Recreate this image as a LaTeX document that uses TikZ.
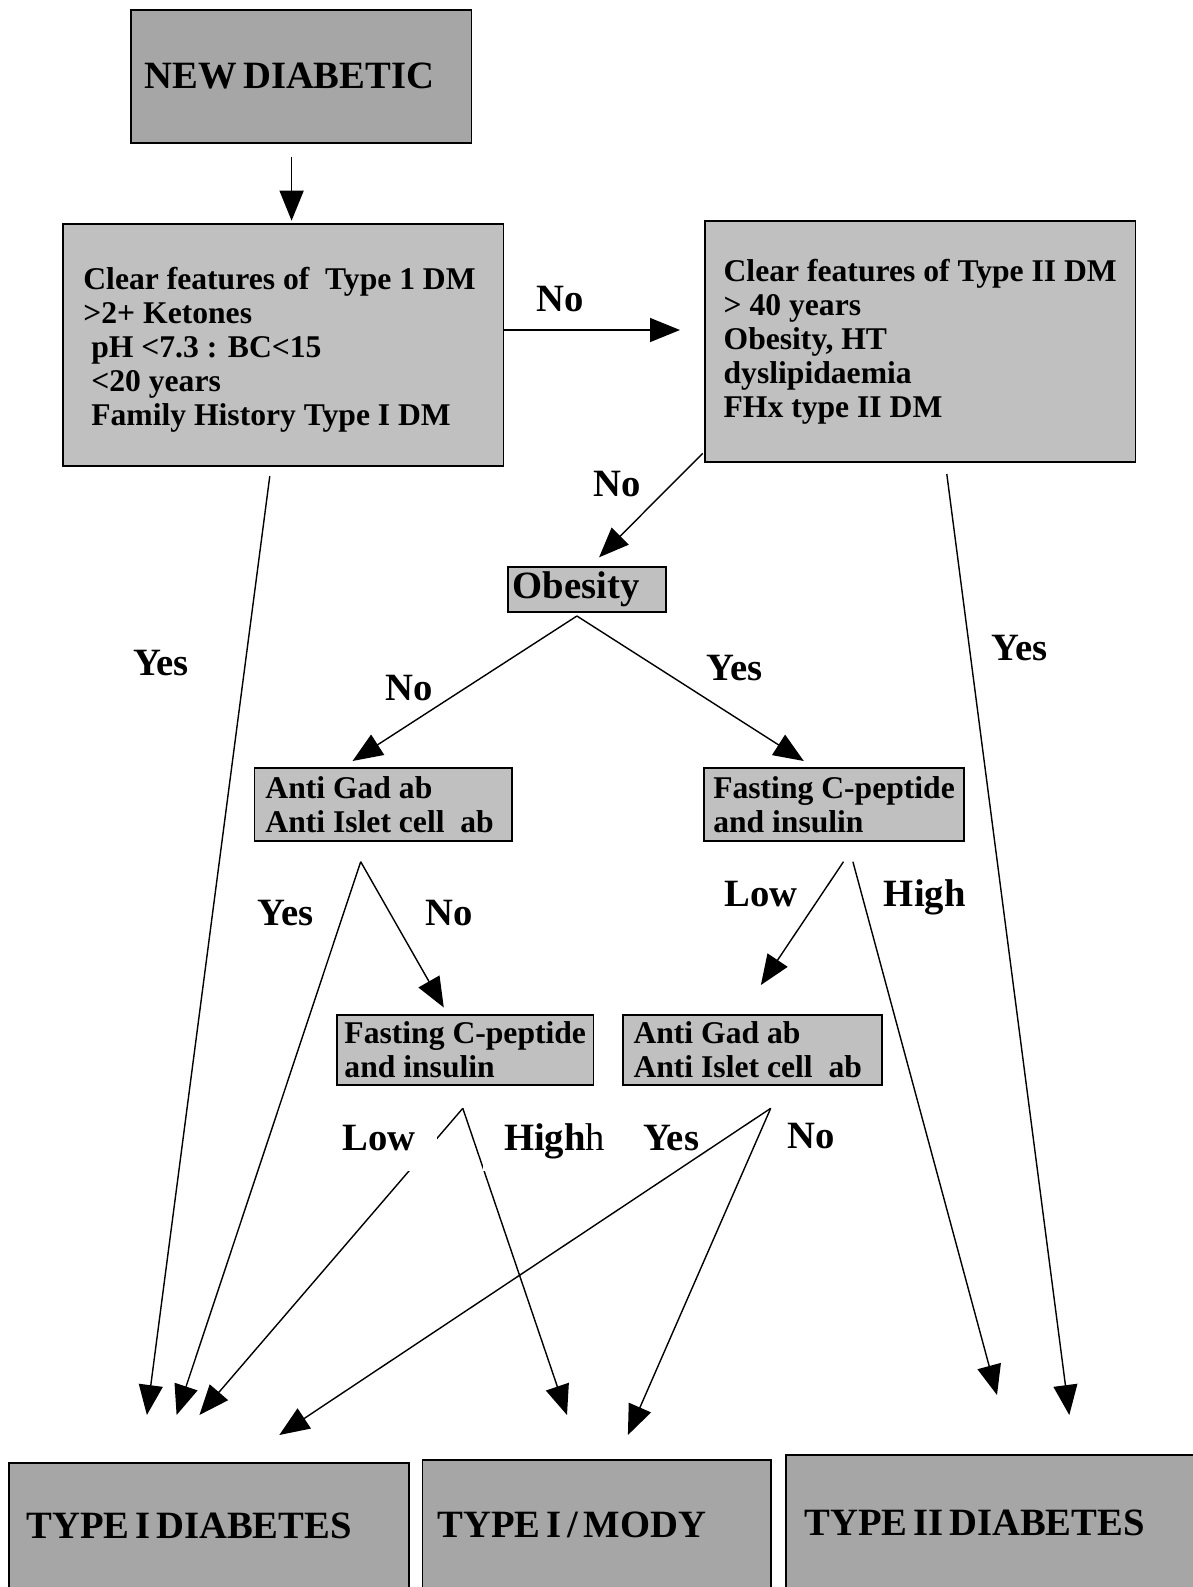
\documentclass[tikz,border=0pt]{standalone}
\usepackage{fontspec}
\setmainfont{Liberation Serif}
\newfontfamily\headfont{Liberation Serif}[WordSpace=0.6]
\usetikzlibrary{arrows.meta}
\definecolor{boxdark}{RGB}{166, 166, 166}
\definecolor{boxlight}{RGB}{192, 192, 192}
\tikzset{
  headbox/.style={draw, line width=1pt, fill=boxdark, align=flush left, inner ysep=0pt,
    font=\headfont\fontsize{22}{26}\selectfont\bfseries},
  infobox/.style={draw, line width=1pt, fill=boxlight, align=flush left, inner sep=0pt,
    font=\fontsize{18}{19.4}\selectfont\bfseries},
  answer/.style={anchor=base, inner sep=0pt, font=\headfont\fontsize{22}{26}\selectfont\bfseries},
  gapanswer/.style={answer, fill=white, inner sep=0.42cm, text depth=0pt},
  arr/.style={line width=0.8pt, -{Triangle[length=0.6cm, width=0.48cm]}}
}

\begin{document}
\begin{tikzpicture}[x=0.02cm, y=-0.02cm]
  \useasboundingbox[fill=white] (0, 0) rectangle (1193, 1587);
  \clip (0, 0) rectangle (1193, 1587);

  \node[headbox, text width=6.25cm, inner xsep=0.28cm, minimum width=6.812cm, minimum height=2.654cm]
    (new) at (301.2, 76.35) { NEW DIABETIC };
  \node[infobox, text width=8.0cm, inner xsep=0.4cm, minimum width=8.81cm, minimum height=4.834cm] (t1) at (283.35, 345.15)
    { \rule{0pt}{0.64cm}Clear features of\ \ Type 1 DM\\>2+ Ketones\\\hspace*{.25em}pH <7.3 : BC<15\\\hspace*{.25em}<20 years\\\hspace*{.25em}Family History Type I DM };
  \node[infobox, minimum width=8.61cm, minimum height=4.832cm] (t2) at (920.25, 341.5)
    { Clear features of Type II DM\\> 40 years\\Obesity, HT\\dyslipidaemia\\FHx type II DM };
  \node[headbox, fill=boxlight, text width=2.97cm, inner xsep=0.088cm, minimum width=3.148cm, minimum height=0.912cm]
    (obese) at (587, 589.5) { Obesity };

  \node[infobox, text width=4.708cm, inner xsep=0.218cm, minimum width=5.144cm, minimum height=1.448cm] (gadA) at (383.1, 804.5)
    { Anti Gad ab\\Anti Islet cell\ \ ab };
  \node[infobox, minimum width=5.19cm, minimum height=1.448cm] (fastA) at (834.05, 804.5)
    { Fasting C-peptide\\and insulin };
  \node[infobox, minimum width=5.126cm, minimum height=1.4cm] (fastB) at (465.25, 1050)
    { Fasting C-peptide\\and insulin };
  \node[infobox, text width=4.766cm, inner xsep=0.208cm, minimum width=5.182cm, minimum height=1.4cm] (gadB) at (752.65, 1050)
    { Anti Gad ab\\Anti Islet cell\ \ ab };

  \node[headbox, text width=7.306cm, inner xsep=0.35cm, minimum width=8.006cm, minimum height=2.546cm]
    (typeI) at (209.25, 1526.35) { TYPE I DIABETES };
  \node[headbox, text width=6.364cm, inner xsep=0.304cm, minimum width=6.972cm, minimum height=2.6cm]
    (mody) at (596.7, 1525) { TYPE I / MODY };
  \node[headbox, text width=7.646cm, inner xsep=0.366cm, minimum width=8.378cm, minimum height=2.7cm]
    (typeII) at (995.55, 1522.5) { TYPE II DIABETES };

  \coordinate (newOut) at (291.6, 157.3);
  \coordinate (t1In) at (291.6, 220.7);
  \coordinate (t2In) at (680, 330);
  \coordinate (t2Out) at (702.7, 453.3);
  \coordinate (obIn) at (599.1, 557.3);
  \coordinate (obFork) at (576.9, 616);
  \coordinate (gadAIn) at (352.5, 761);
  \coordinate (fastAIn) at (803.8, 761);
  \coordinate (gadAFork) at (360.7, 861.7);
  \coordinate (fastBIn) at (443.8, 1007.5);
  \coordinate (t1Out) at (269.8, 476);
  \coordinate (fastALow) at (843.5, 861.7);
  \coordinate (fastAHigh) at (852.9, 861.7);
  \coordinate (gadBIn) at (760.9, 985);
  \coordinate (t2Yes) at (946.8, 474);
  \coordinate (fastBFork) at (462.8, 1108.3);
  \coordinate (gadBFork) at (770.7, 1108.3);
  \coordinate (typeIa) at (146.9, 1415);
  \coordinate (typeIb) at (176.6, 1415);
  \coordinate (typeIc) at (199.4, 1415);
  \coordinate (typeId) at (279.3, 1435);
  \coordinate (modyA) at (567, 1415);
  \coordinate (modyB) at (627.9, 1435);
  \coordinate (typeIIa) at (997, 1395);
  \coordinate (typeIIb) at (1069.3, 1415);

  \draw[arr] (newOut) -- (t1In);
  \draw[arr] (t1.east |- t2In) -- (t2In);
  \draw[arr] (t2Out) -- (obIn);
  \draw[arr] (obFork) -- (gadAIn);
  \draw[arr] (obFork) -- (fastAIn);
  \draw[arr] (gadAFork) -- (fastBIn);
  \draw[arr] (gadAFork) -- (typeIb);
  \draw[arr] (t1Out) -- (typeIa);
  \draw[arr] (fastALow) -- (gadBIn);
  \draw[arr] (fastAHigh) -- (typeIIa);
  \draw[arr] (t2Yes) -- (typeIIb);
  \draw[arr] (fastBFork) -- (typeIc);
  \draw[arr] (fastBFork) -- (modyA);
  \draw[arr] (gadBFork) -- (typeId);
  \draw[arr] (gadBFork) -- (modyB);

  \node[answer] (noA) at (560.5, 311.7) { No };
  \node[answer] (noB) at (616.8, 496) { No };
  \node[answer] (noC) at (409.3, 700) { No };
  \node[answer] (yesA) at (734.5, 680) { Yes };
  \node[answer] (yesB) at (161, 675.5) { Yes };
  \node[answer] (yesC) at (1019.5, 660.2) { Yes };
  \node[answer] (yesD) at (285.5, 925) { Yes };
  \node[answer] (noD) at (449.4, 925) { No };
  \node[answer] (lowA) at (761, 906) { Low };
  \node[answer] (highA) at (924.8, 906) { High };
  \node[gapanswer] (lowB) at (379.2, 1150) { Low };
  \node[gapanswer] (highB) at (554.5, 1150) { High\textmd{h} };
  \node[answer] (yesE) at (671.2, 1150) { Yes };
  \node[answer] (noE) at (811, 1148) { No };

\end{tikzpicture}
\end{document}
